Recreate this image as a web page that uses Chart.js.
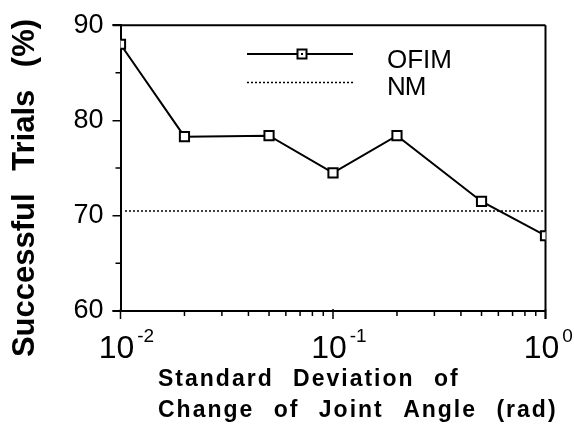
<!DOCTYPE html>
<html><head><meta charset="utf-8">
<style>html,body{margin:0;padding:0;background:#fff}#wrap{width:574px;height:426px}</style>
<script src="https://cdn.jsdelivr.net/npm/chart.js@4/dist/chart.umd.min.js"></script>
</head><body><div id="wrap"><canvas id="c" width="574" height="426"></canvas></div>
<script>
// ---- data ----
const sdValues   = [0.01, 0.02, 0.05, 0.1, 0.2, 0.5, 1];
const ofimValues = [88.0, 78.3, 78.4, 74.5, 78.4, 71.5, 67.9];
const nmX        = [0.0105, 1];
const nmValues   = [70.5, 70.5];
const seriesNames = ['OFIM', 'NM'];
const yMajorTicks = [60, 70, 80, 90];
const yMinorTicks = [65, 75, 85];
const xMajorTicks = [0.01, 0.1, 1];
const xMajorExp   = ['-2', '-1', '0'];
const xMinorTicks = [0.02,0.03,0.04,0.05,0.06,0.07,0.08,0.09,0.2,0.3,0.4,0.5,0.6,0.7,0.8,0.9];
const yTitle = 'Successful Trials (%)';
const xTitleLines = ['Standard Deviation of', 'Change of Joint Angle (rad)'];

const FONT = '"Liberation Sans", Arial, Helvetica, sans-serif';

const deco = {
  id: 'deco',
  beforeDatasetsDraw(chart) {
    const ctx = chart.ctx, a = chart.chartArea;
    const xs = chart.scales.x, ys = chart.scales.y;
    ctx.save();
    ctx.strokeStyle = '#000';
    ctx.lineWidth = 2;
    ctx.beginPath();
    ctx.moveTo(a.left - 8, a.top); ctx.lineTo(a.right, a.top);
    ctx.moveTo(a.right, a.top); ctx.lineTo(a.right, a.bottom + 8);
    ctx.moveTo(a.left - 8, a.bottom); ctx.lineTo(a.right, a.bottom);
    ctx.stroke();
    ctx.lineWidth = 1.5;
    ctx.beginPath();
    xMinorTicks.forEach(v => { const p = xs.getPixelForValue(v); ctx.moveTo(p, a.bottom - 1); ctx.lineTo(p, a.bottom + 5); });
    xMajorTicks.forEach(v => { const p = xs.getPixelForValue(v); ctx.moveTo(p, a.bottom - 2); ctx.lineTo(p, a.bottom + 8); });
    yMinorTicks.forEach(v => { const p = ys.getPixelForValue(v); ctx.moveTo(a.left - 5, p); ctx.lineTo(a.left, p); });
    ctx.stroke();
    ctx.restore();
  },
  afterDraw(chart) {
    const ctx = chart.ctx, a = chart.chartArea;
    const xs = chart.scales.x;
    ctx.save();
    ctx.fillStyle = '#000';
    // x tick labels with superscripts
    xMajorTicks.forEach((v, i) => {
      const p = xs.getPixelForValue(v);
      ctx.font = '32px ' + FONT;
      ctx.textAlign = 'center';
      ctx.textBaseline = 'alphabetic';
      const w = ctx.measureText('10').width;
      const cx = p - 4;
      ctx.fillText('10', cx, 358);
      ctx.font = '19px ' + FONT;
      ctx.textAlign = 'left';
      ctx.fillText(xMajorExp[i], cx + w / 2 + 3, 342);
    });
    // y title
    ctx.save();
    ctx.translate(25, 188);
    ctx.rotate(-Math.PI / 2);
    ctx.font = 'bold 31px ' + FONT;
    ctx.textAlign = 'center';
    ctx.textBaseline = 'middle';
    try { ctx.wordSpacing = '14px'; } catch (e) {}
    ctx.fillText(yTitle, 0, 0);
    ctx.restore();
    // x title
    ctx.save();
    ctx.font = 'bold 23px ' + FONT;
    ctx.textAlign = 'left';
    ctx.textBaseline = 'alphabetic';
    try { ctx.letterSpacing = '2px'; ctx.wordSpacing = '11px'; } catch (e) {}
    ctx.fillText(xTitleLines[0], 158, 386);
    ctx.fillText(xTitleLines[1], 158, 417);
    ctx.restore();
    // legend
    ctx.strokeStyle = '#000';
    ctx.lineWidth = 2;
    ctx.beginPath(); ctx.moveTo(247, 54); ctx.lineTo(353, 54); ctx.stroke();
    ctx.fillStyle = '#fff';
    ctx.fillRect(297.5, 49.5, 9, 9);
    ctx.lineWidth = 2;
    ctx.strokeRect(297.5, 49.5, 9, 9);
    ctx.fillStyle = '#000';
    ctx.fillRect(301, 53, 2, 2);
    ctx.lineWidth = 1.5;
    ctx.setLineDash([2, 2]);
    ctx.beginPath(); ctx.moveTo(247, 82.5); ctx.lineTo(353, 82.5); ctx.stroke();
    ctx.setLineDash([]);
    ctx.font = '26px ' + FONT;
    ctx.textAlign = 'left';
    ctx.fillText(seriesNames[0], 387, 68);
    try { ctx.letterSpacing = '-1px'; } catch (e) {}
    ctx.fillText(seriesNames[1], 387, 95);
    ctx.restore();
  }
};

new Chart(document.getElementById('c'), {
  type: 'line',
  data: {
    datasets: [
      {
        label: seriesNames[0],
        data: sdValues.map((x, i) => ({ x, y: ofimValues[i] })),
        borderColor: '#000', borderWidth: 2,
        pointStyle: 'rect', pointRadius: 6.5, pointBackgroundColor: '#fff',
        pointBorderColor: '#000', pointBorderWidth: 2, tension: 0
      },
      {
        label: seriesNames[1],
        data: nmX.map((x, i) => ({ x, y: nmValues[i] })),
        borderColor: '#000', borderWidth: 1.5, borderDash: [2, 2],
        pointRadius: 0, tension: 0
      },
      {
        label: 'dot',
        data: sdValues.map((x, i) => ({ x, y: ofimValues[i] })),
        showLine: false, pointStyle: 'rect', pointRadius: 1.4,
        pointBackgroundColor: '#000', pointBorderWidth: 0
      }
    ]
  },
  options: {
    responsive: false, animation: false, devicePixelRatio: 1,
    layout: { padding: { left: 0, top: 15, right: 28.5, bottom: 0 } },
    plugins: { legend: { display: false }, tooltip: { enabled: false } },
    scales: {
      x: {
        type: 'logarithmic', min: 0.01, max: 1,
        grid: { display: false }, border: { display: false },
        ticks: { display: false },
        afterFit(s) { s.height = 115; }
      },
      y: {
        min: 60, max: 90,
        ticks: { stepSize: 10, color: '#000', padding: 9, font: { family: FONT, size: 27 } },
        grid: { drawOnChartArea: false, drawTicks: true, tickLength: 8, color: '#000', lineWidth: 1.5 },
        border: { display: true, color: '#000', width: 2 },
        afterFit(s) { s.width = 120.5; }
      }
    }
  },
  plugins: [deco]
});
</script>
</body></html>
